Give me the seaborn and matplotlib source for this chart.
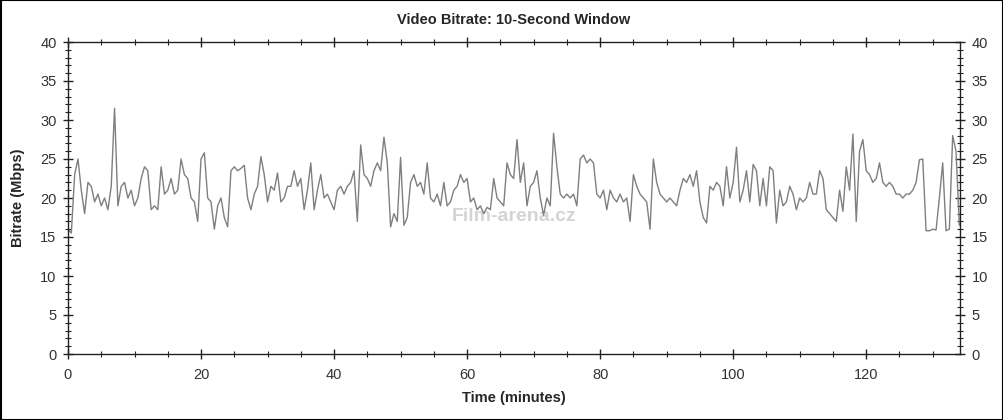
import numpy as np
import pandas as pd
import seaborn as sns
import matplotlib.pyplot as plt
from matplotlib.patches import Rectangle
from matplotlib.ticker import MultipleLocator

bitrate = [
    16, 15.5, 23, 25, 21, 18, 22, 21.5, 19.5, 20.5, 19, 20, 18.5, 21.5, 31.5, 19,
    21.5, 22, 20, 21, 19, 20, 22.5, 24, 23.5, 18.5, 19, 18.5, 24, 20.5, 21, 22.5,
    20.5, 21, 25, 23, 22.5, 20, 19.5, 17, 25, 25.8, 20, 19.5, 16, 19,
    20, 17.5, 16.3, 23.5, 24, 23.5, 23.8, 24.2, 20, 18.5, 20.5, 21.5, 25.3, 23, 19.5,
    21.5, 21, 23.2, 19.5, 20, 21.5, 21.5, 23.5, 21.5, 22.5, 18.5, 21, 24.5, 18.5, 21,
    23, 20, 20.5, 19.5, 18.5, 21, 21.5, 20.5, 21.5, 22, 23.5, 17, 26.8, 23, 22.5,
    21.5, 23.5, 24.5, 23.5, 27.8, 24.5, 16.3, 18, 17, 25.2, 16.5, 17.5, 22, 23, 21.5,
    22, 20.5, 24.5, 20, 19.5, 20.5, 19, 22, 19, 19.5, 21, 21.5, 23, 22, 22.5, 19.5,
    20, 18.5, 19, 18, 18.8, 18.5, 22.5, 20, 19.5, 19, 24.5, 23, 22.5, 27.5, 22,
    24.5, 19, 21.5, 22, 23.5, 20, 17.8, 20, 19, 28.3, 24, 20.5, 20, 20.5, 20, 20.5,
    19, 25, 25.5, 24.5, 25, 24.5, 20.5, 20, 21, 18.5, 21, 20, 19.5, 20.5, 19.5, 20,
    17, 23, 21.5, 20.5, 20, 19.5, 16, 25, 22, 20.5, 20, 19.5, 20,
    19.5, 19, 21, 22.5, 22, 23, 21.5, 23.5, 19.5, 17.5, 16.8, 21.5, 21, 22, 21.5,
    19, 24, 20, 22, 26.5, 19.5, 21, 23.5, 19.5, 24.3, 23.5, 19, 22.5, 19, 24, 23.5,
    16.8, 21, 19, 19.5, 21.5, 20.5, 18.5, 20, 19.5, 20, 22, 20.5, 20.5, 23.5,
    22.5, 18.5, 18, 17.5, 17, 21, 18.3, 24, 21, 28.2, 17, 26, 27.5, 23.5, 23, 22,
    22.5, 24.5, 22, 21.5, 22, 21.5, 20.5, 20.5, 20, 20.5, 20.5, 21, 22, 24.9, 25,
    15.8, 15.8, 16, 15.9, 20, 24.5, 15.8, 16, 28, 26, 16.5,
]
minutes = np.arange(len(bitrate)) * 0.5

df = pd.DataFrame({"Time (minutes)": minutes, "Bitrate (Mbps)": bitrate})

sns.set_style("ticks")
plt.rcParams["font.family"] = ["Liberation Sans", "DejaVu Sans"]

fig = plt.figure(figsize=(10.04, 4.2), dpi=100)
ax = fig.add_axes([68 / 1004, 1 - 354 / 420, 892 / 1004, 312 / 420])

sns.lineplot(data=df, x="Time (minutes)", y="Bitrate (Mbps)", ax=ax,
             color="#7f7f7f", linewidth=1.0)

ax.set_xlim(0, 134.1)
ax.set_ylim(0, 40)
ax.xaxis.set_major_locator(MultipleLocator(20))
ax.xaxis.set_minor_locator(MultipleLocator(5))
ax.yaxis.set_major_locator(MultipleLocator(5))
ax.yaxis.set_minor_locator(MultipleLocator(1))

for side in ["left", "right", "top", "bottom"]:
    ax.spines[side].set_visible(True)
    ax.spines[side].set_color("#222222")
    ax.spines[side].set_linewidth(1.0)

ax.tick_params(which="both", direction="inout", top=True, right=True,
               labelright=True, colors="#222222", labelcolor="#333333",
               labelsize=10.5)
ax.tick_params(which="major", length=7.5, width=1.0)
ax.tick_params(which="minor", length=4, width=0.8)
ax.tick_params(axis="x", which="major", pad=6)
ax.tick_params(axis="y", which="major", pad=4.5)

ax.set_xlabel("")
ax.set_ylabel("")
fig.text(0.512, 1 - 20 / 420, "Video Bitrate: 10-Second Window",
         ha="center", va="center", fontsize=10.5, fontweight="bold")
fig.text(0.512, 1 - 398 / 420, "Time (minutes)",
         ha="center", va="center", fontsize=10.5, fontweight="bold")
fig.text(18 / 1004, 1 - 198 / 420, "Bitrate (Mbps)", rotation=90,
         ha="center", va="center", fontsize=10.5, fontweight="bold")

# watermark
ax.text(0.5, 0.44, "Film-arena.cz", transform=ax.transAxes, ha="center",
        va="center", fontsize=14, fontweight="bold", color="#d4d4d4", zorder=0)

fig.patches.append(Rectangle((0.0005, 0.001), 0.999, 0.998, transform=fig.transFigure,
                             fill=False, edgecolor="black", linewidth=1.5))

fig.savefig("out.png", dpi=100, facecolor="white")
